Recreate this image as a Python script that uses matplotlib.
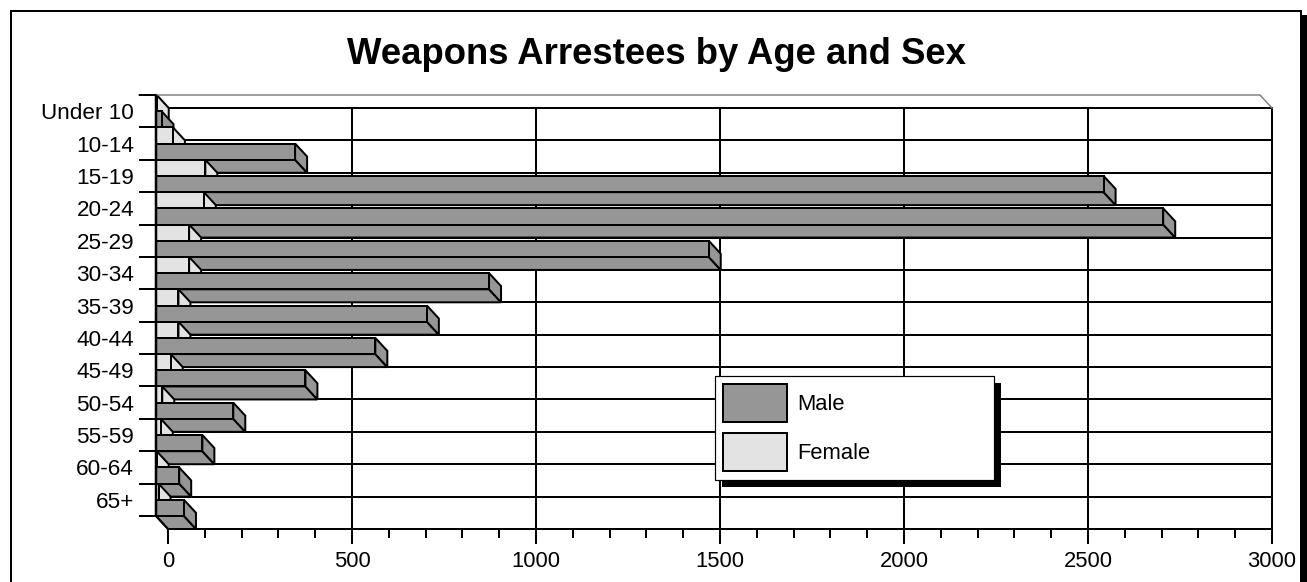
import matplotlib
matplotlib.use("Agg")
import matplotlib.pyplot as plt
from matplotlib.patches import Polygon, Rectangle
import numpy as np

plt.rcParams['font.family'] = ['Liberation Sans', 'DejaVu Sans']

# ---------------- data ----------------
categories = ["Under 10", "10-14", "15-19", "20-24", "25-29", "30-34", "35-39",
              "40-44", "45-49", "50-54", "55-59", "60-64", "65+"]
male = [15, 378, 2575, 2737, 1502, 905, 736, 596, 406, 210, 126, 63, 76]
female = [2, 46, 134, 130, 90, 90, 61, 61, 40, 17, 13, 2, 7]
series_names = ["Male", "Female"]
xticks_major = [0, 500, 1000, 1500, 2000, 2500, 3000]
title = "Weapons Arrestees by Age and Sex"

male_color = "#969696"
female_color = "#e3e3e3"

# ---------------- figure geometry ----------------
W, H = 1307, 582
DPI = 100
fig = plt.figure(figsize=(W / DPI, H / DPI), dpi=DPI)
fig.patch.set_facecolor("white")

px = 72.0 / DPI  # points per pixel

# back wall of the 3D box, in pixels
bx0, bx1, by0, by1 = 168, 1272, 108, 529
ax = fig.add_axes([bx0 / W, 1 - by1 / H, (bx1 - bx0) / W, (by1 - by0) / H])
ax.set_xlim(0, 3000)
ax.set_ylim(len(categories), 0)
ax.set_facecolor("none")

ux = (bx1 - bx0) / 3000.0               # px per value unit
uy = (by1 - by0) / len(categories)      # px per category
D = 12 / ux      # depth offset in value units
DY = 13 / uy     # depth offset in category units

LW = 2 * px

# ---------------- back wall grid ----------------
for v in xticks_major:
    ax.plot([v, v], [0, len(categories)], color="black", lw=LW, zorder=1,
            clip_on=False, solid_capstyle="butt")
for k in range(len(categories) + 1):
    ax.plot([0, 3000], [k, k], color="black", lw=LW, zorder=1, clip_on=False,
            solid_capstyle="butt")

# ---------------- 3D bars ----------------
h = 0.5
z = 3
for k in range(len(categories)):
    for s, (vals, col) in enumerate([(female, female_color), (male, male_color)]):
        v = vals[k]
        y0f = k + s * h - DY
        y1f = y0f + h
        x0f = -D
        x1f = v - D
        front = Polygon([(x0f, y0f), (x1f, y0f), (x1f, y1f), (x0f, y1f)], closed=True,
                        facecolor=col, edgecolor="black", lw=LW, zorder=z,
                        clip_on=False, joinstyle="miter")
        bottom = Polygon([(x0f, y1f), (x1f, y1f), (x1f + D, y1f + DY), (x0f + D, y1f + DY)],
                         closed=True, facecolor=col, edgecolor="black", lw=LW,
                         zorder=z, clip_on=False, joinstyle="miter")
        side = Polygon([(x1f, y0f), (x1f + D, y0f + DY), (x1f + D, y1f + DY), (x1f, y1f)],
                       closed=True, facecolor=col, edgecolor="black", lw=LW,
                       zorder=z, clip_on=False, joinstyle="miter")
        ax.add_patch(bottom)
        ax.add_patch(side)
        ax.add_patch(front)
        z += 1

# ---------------- box outline ----------------
n = len(categories)
tick_len = 17 / ux
# top front edge (gray) + diagonal
ax.plot([-D - tick_len, 3000 - D, 3000], [-DY, -DY, 0], color="#808080", lw=1.5 * px,
        zorder=50, clip_on=False)
# left wall front edge
ax.plot([-D, -D], [-DY, n - DY], color="black", lw=2.5 * px, zorder=60, clip_on=False,
        solid_capstyle="butt")
# left wall top / bottom diagonals
ax.plot([-D, 0], [-DY, 0], color="black", lw=LW, zorder=2, clip_on=False)
ax.plot([-D, 0], [n - DY, n], color="black", lw=LW, zorder=60, clip_on=False)
# category tick marks on the front plane
for k in range(n + 1):
    ax.plot([-D - tick_len, -D], [k - DY, k - DY], color="black", lw=LW, zorder=60,
            clip_on=False, solid_capstyle="butt")

# ---------------- axes / ticks ----------------
for side_name in ["top", "left"]:
    ax.spines[side_name].set_visible(False)
ax.spines["bottom"].set_linewidth(LW)
ax.spines["right"].set_linewidth(LW)
ax.spines["bottom"].set_zorder(70)

ax.set_xticks(xticks_major)
ax.set_xticklabels([str(v) for v in xticks_major])
ax.set_xticks(np.arange(0, 3001, 100), minor=True)
ax.tick_params(axis="x", which="major", direction="out", length=15 * px, width=LW,
               labelsize=22 * px, pad=7 * px)
ax.tick_params(axis="x", which="minor", direction="out", length=9 * px, width=LW)

ax.set_yticks([k + 0.5 - DY for k in range(n)])
ax.set_yticklabels(categories)
ax.tick_params(axis="y", which="both", length=0, labelsize=22.5 * px,
               pad=(bx0 - 134) * px)

# ---------------- title ----------------
fig.text(656 / W, 1 - 54 / H, title, ha="center", va="center",
         fontsize=36.5 * px, fontweight="bold")

# ---------------- legend ----------------
handles = [Rectangle((0, 0), 1, 1, facecolor=male_color, edgecolor="black", lw=LW),
           Rectangle((0, 0), 1, 1, facecolor=female_color, edgecolor="black", lw=LW)]
lx0, ly0, lx1, ly1 = 715, 376, 994, 482
leg = fig.legend(handles, series_names, loc="upper left",
                 bbox_to_anchor=(lx0 / W, 1 - ly1 / H, (lx1 - lx0) / W, (ly1 - ly0) / H),
                 mode="expand", fontsize=22 * px, handlelength=2.9, handleheight=2.28,
                 labelspacing=0.5, borderpad=0.38, handletextpad=0.45,
                 borderaxespad=0, fancybox=False, framealpha=1, edgecolor="black")
leg.get_frame().set_linewidth(1.2 * px)
leg.set_zorder(100)

# shadow under the legend
fig.canvas.draw()
bb = leg.get_window_extent()
fig.patches.append(Rectangle((bb.x0 + 7, bb.y0 - 7), bb.width, bb.height,
                             transform=None, facecolor="black", edgecolor="none",
                             zorder=99))

# ---------------- outer frame with shadow ----------------
fig.patches.append(Rectangle((1302 / W, -0.1), 6 / W, 1 - 15 / H + 0.1,
                             transform=fig.transFigure, facecolor="black",
                             edgecolor="none", zorder=0))
fig.patches.append(Rectangle((11 / W, -0.1), 1290 / W, 1 - 11 / H + 0.1,
                             transform=fig.transFigure, facecolor="none",
                             edgecolor="black", lw=2 * px, zorder=0))

fig.savefig("out.png", dpi=DPI)
